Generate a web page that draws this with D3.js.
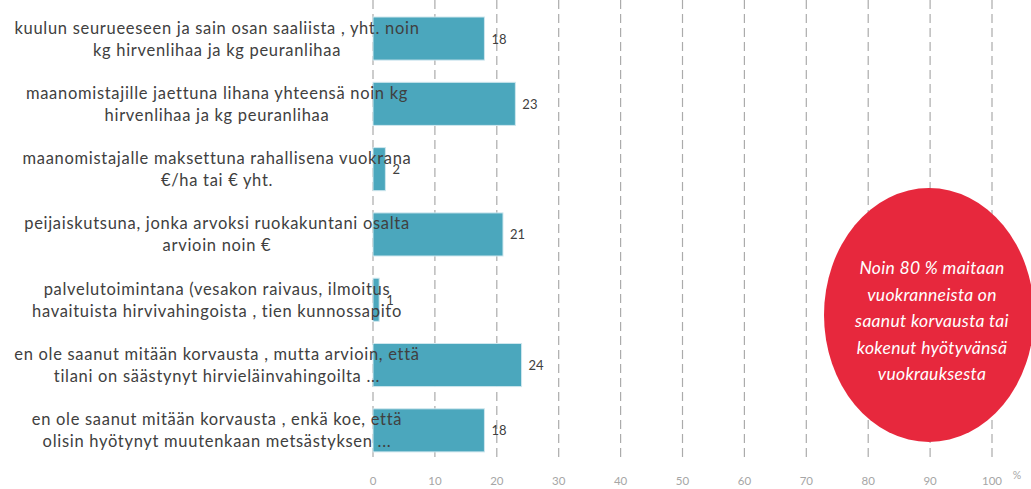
<!DOCTYPE html>
<html><head><meta charset="utf-8">
<script src="https://cdn.jsdelivr.net/npm/d3@7"></script>
<style>body{margin:0;background:#fff}svg{display:block}</style>
</head><body><svg id="c" width="1031" height="489"></svg>
<script>
const categories = [
  ["kuulun seurueeseen ja sain osan saaliista , yht. noin", "kg hirvenlihaa ja kg peuranlihaa"],
  ["maanomistajille jaettuna lihana yhteensä noin kg", "hirvenlihaa ja kg peuranlihaa"],
  ["maanomistajalle maksettuna rahallisena vuokrana", "€/ha tai € yht."],
  ["peijaiskutsuna, jonka arvoksi ruokakuntani osalta", "arvioin noin €"],
  ["palvelutoimintana (vesakon raivaus, ilmoitus", "havaituista hirvivahingoista , tien kunnossapito"],
  ["en ole saanut mitään korvausta , mutta arvioin, että", "tilani on säästynyt hirvieläinvahingoilta ..."],
  ["en ole saanut mitään korvausta , enkä koe, että", "olisin hyötynyt muutenkaan metsästyksen ..."]
];
const values = [18, 23, 2, 21, 1, 24, 18];
const ticks = [0, 10, 20, 30, 40, 50, 60, 70, 80, 90, 100];
const calloutLines = ["Noin 80 % maitaan", "vuokranneista on", "saanut korvausta tai", "kokenut hyötyvänsä", "vuokrauksesta"];

const svg = d3.select("#c");
const font = "Lato, 'Open Sans', sans-serif";
const ids = categories.map((d, i) => i);
const x = d3.scaleLinear().domain([0, 100]).range([373, 992]);
const y = d3.scaleBand().domain(ids).range([5.9, 463]).paddingInner(0.34).paddingOuter(0.17);

// gridlines
svg.append("g").selectAll("line").data(ticks).join("line")
  .attr("x1", d => x(d)).attr("x2", d => x(d))
  .attr("y1", 0).attr("y2", 462)
  .attr("stroke", "#ABABAB").attr("stroke-width", 1.2)
  .attr("stroke-dasharray", "9,5");

// tick labels
svg.append("g").selectAll("text").data(ticks).join("text")
  .attr("x", d => x(d)).attr("y", 485)
  .attr("text-anchor", "middle")
  .attr("font-family", font).attr("font-size", 11.5)
  .attr("fill", "#A6A6A6").text(d => d);
svg.append("text").attr("x", 1017).attr("y", 479).attr("text-anchor", "middle")
  .attr("font-family", font).attr("font-size", 10.5).attr("fill", "#A6A6A6").text("%");

// bars
svg.append("g").selectAll("rect").data(values).join("rect")
  .attr("x", x(0)).attr("y", (d, i) => y(i))
  .attr("width", d => x(d) - x(0)).attr("height", y.bandwidth())
  .attr("fill", "#4BA7BD").attr("stroke", "#CFE7EE").attr("stroke-width", 1);

// value labels
svg.append("g").selectAll("text").data(values).join("text")
  .attr("x", d => x(d) + 7).attr("y", (d, i) => y(i) + y.bandwidth() / 2 + 5)
  .attr("font-family", font).attr("font-size", 13).attr("fill", "#404040")
  .text(d => d);

// category labels
const lab = svg.append("g").selectAll("text").data(categories).join("text")
  .attr("text-anchor", "middle")
  .attr("font-family", font).attr("font-size", 16.5).attr("fill", "#404040")
  .attr("letter-spacing", 0.7);
lab.each(function (d, i) {
  const cy = y(i) + y.bandwidth() / 2;
  d3.select(this).selectAll("tspan").data(d).join("tspan")
    .attr("x", 217).attr("y", (t, j) => cy - 5 + j * 22)
    .text(t => t);
});

// callout ellipse
svg.append("ellipse").attr("cx", 929).attr("cy", 315).attr("rx", 105).attr("ry", 127)
  .attr("fill", "#E7283D");
svg.append("g").selectAll("text").data(calloutLines).join("text")
  .attr("x", 932).attr("y", (d, i) => 274 + i * 26.5)
  .attr("text-anchor", "middle").attr("font-family", font)
  .attr("font-style", "italic").attr("font-size", 17.5).attr("fill", "#fff")
  .attr("letter-spacing", 0.3)
  .text(d => d);
</script></body></html>
